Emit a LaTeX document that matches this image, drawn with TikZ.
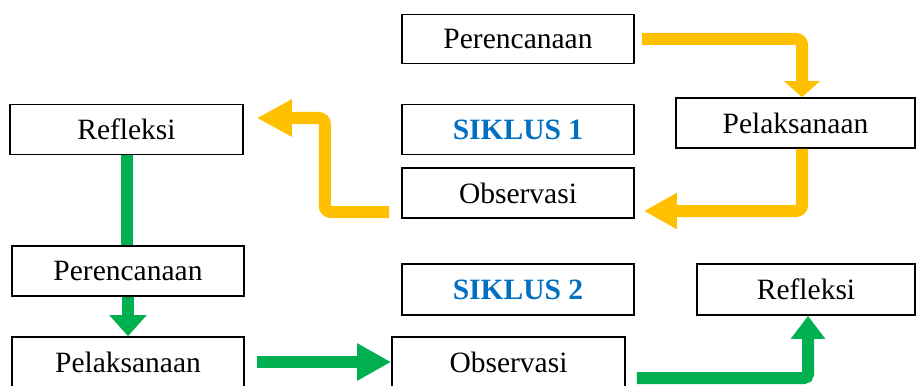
\documentclass[tikz,border=0pt]{standalone}
\usepackage{fontspec}
\setmainfont{Liberation Serif}
\usetikzlibrary{arrows.meta}
\definecolor{ylw}{HTML}{FFC000}
\definecolor{grn}{HTML}{00B050}
\definecolor{blu}{HTML}{0070C0}
\begin{document}
\begin{tikzpicture}[x=1pt,y=1pt,
  box/.style={draw=black,line width=1.7pt,fill=white,inner sep=0pt,font=\fontsize{29.5}{32}\selectfont},
  ttl/.style={box,font=\fontsize{29.5}{32}\selectfont\bfseries,text=blu},
  yline/.style={draw=ylw,line width=12pt,rounded corners=6pt},
  gline/.style={draw=grn,line width=12pt,rounded corners=4pt},
]
\useasboundingbox (0,0) rectangle (917,-385);
\clip (0,0) rectangle (917,-385);
% Siklus 1
\node[box,minimum width=232pt,minimum height=49pt] (p1) at (518,-39) {Perencanaan};
\node[ttl,minimum width=232pt,minimum height=50pt] (s1) at (518,-129.5) {SIKLUS 1};
\node[box,minimum width=232pt,minimum height=50pt] (o1) at (518,-193) {Observasi};
\node[box,minimum width=239pt,minimum height=50pt] (l1) at (795.5,-123) {Pelaksanaan};
\node[box,minimum width=233pt,minimum height=50pt] (r1) at (126.5,-129.5) {Refleksi};
% Siklus 2
\node[box,minimum width=232pt,minimum height=50pt] (p2) at (128,-271) {Perencanaan};
\node[box,minimum width=232pt,minimum height=50pt] (l2) at (128,-362) {Pelaksanaan};
\node[ttl,minimum width=232pt,minimum height=51pt] (s2) at (518,-289.5) {SIKLUS 2};
\node[box,minimum width=218pt,minimum height=51pt] (r2) at (806,-289.5) {Refleksi};
\node[box,minimum width=233pt,minimum height=50pt] (o2) at (508.5,-362) {Observasi};
% yellow arrows
\draw[yline,-{Triangle[width=35pt,length=16pt]}] ([xshift=7pt]p1.east) -| ([xshift=6.5pt]l1.north);
\draw[yline,-{Triangle[width=34pt,length=33pt]}] ([xshift=6.5pt]l1.south) |- ([shift={(9pt,-18pt)}]o1.east);
\coordinate (y3t) at ([shift={(13pt,11.5pt)}]r1.east);
\draw[yline,-{Triangle[width=35pt,length=35pt]}] ([shift={(-12pt,-19pt)}]o1.west) -| ([xshift=68pt]y3t) -- (y3t);
% green arrows
\draw[gline] (r1.south) -- (r1.south |- p2.north);
\draw[gline,-{Triangle[width=36pt,length=21pt]}] (p2.south) -- (l2.north);
\draw[gline,-{Triangle[width=35pt,length=34pt]}] ([xshift=12pt]l2.east) -- (o2.west);
\draw[gline,-{Triangle[width=33pt,length=23pt]}] ([shift={(11pt,-16pt)}]o2.east) -| ([xshift=2pt]r2.south);
\end{tikzpicture}
\end{document}
